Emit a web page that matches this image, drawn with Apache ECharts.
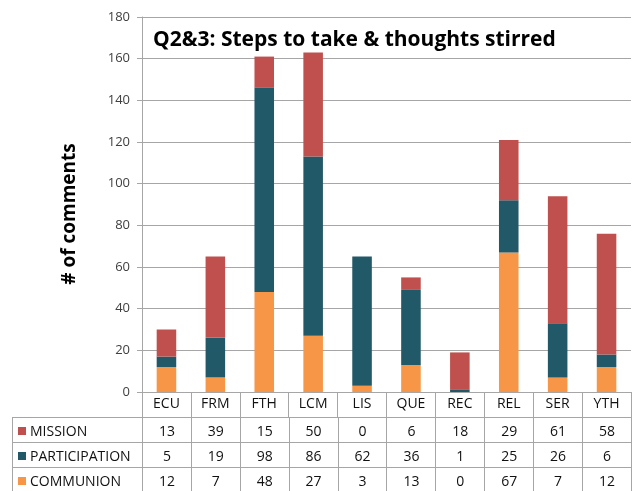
<!DOCTYPE html>
<html>
<head>
<meta charset="utf-8">
<script src="https://cdn.jsdelivr.net/npm/echarts@6/dist/echarts.min.js"></script>
<style>
  html, body { margin: 0; padding: 0; background: #fff; }
  #wrap { position: relative; width: 634px; height: 491px; overflow: hidden; }
  #chart { position: absolute; left: 0; top: 0; width: 634px; height: 491px; }
  #table { position: absolute; left: 12px; top: 417px; border-collapse: collapse; table-layout: fixed;
           font-family: "Open Sans", "Noto Sans", sans-serif; font-size: 14px; color: #111; }
  #table td { border: 1px solid #a6a6a6; height: 24px; padding: 0; text-align: center; white-space: nowrap; overflow: hidden; }
  #table td.name { text-align: left; padding-left: 5px; }
  .sw { display: inline-block; width: 8px; height: 8px; margin-right: 4px; vertical-align: 1px; }
</style>
</head>
<body>
<div id="wrap">
  <div id="chart"></div>
  <table id="table"></table>
</div>
<script>
  // categories and stacked values (bottom to top: communion, participation, mission)
  var categories = ['ECU', 'FRM', 'FTH', 'LCM', 'LIS', 'QUE', 'REC', 'REL', 'SER', 'YTH'];
  var mission = [13, 39, 15, 50, 0, 6, 18, 29, 61, 58];
  var participation = [5, 19, 98, 86, 62, 36, 1, 25, 26, 6];
  var communion = [12, 7, 48, 27, 3, 13, 0, 67, 7, 12];
  var yTicks = [0, 20, 40, 60, 80, 100, 120, 140, 160, 180];

  var colors = { MISSION: '#C0504D', PARTICIPATION: '#215968', COMMUNION: '#F79646' };
  var font = '"Open Sans", "Noto Sans", sans-serif';

  var myChart = echarts.init(document.getElementById('chart'));
  var option = {
    animation: false,
    title: {
      text: 'Q2&3: Steps to take & thoughts stirred',
      left: 148,
      top: 25,
      textStyle: { fontFamily: font, fontSize: 21, fontWeight: 'bold', color: '#000' }
    },
    graphic: [{
      type: 'text',
      x: 70,
      y: 214,
      rotation: Math.PI / 2,
      style: {
        text: '# of comments',
        fontFamily: font, fontSize: 19, fontWeight: 'bold', fill: '#000',
        align: 'center', verticalAlign: 'middle'
      }
    }],
    grid: { left: 142, right: 3, top: 17, bottom: 99 },
    xAxis: {
      type: 'category',
      data: categories,
      axisLine: { lineStyle: { color: '#a6a6a6' } },
      axisTick: { show: true, length: 25, lineStyle: { color: '#a6a6a6' } },
      axisLabel: { fontFamily: font, fontSize: 14, color: '#111', margin: 5 }
    },
    yAxis: {
      type: 'value',
      min: yTicks[0],
      max: yTicks[yTicks.length - 1],
      interval: 20,
      axisLine: { show: true, lineStyle: { color: '#a6a6a6' } },
      axisTick: { show: true, length: 5, lineStyle: { color: '#a6a6a6' } },
      axisLabel: { fontFamily: font, fontSize: 13, color: '#404040', margin: 12 },
      splitLine: { lineStyle: { color: '#a6a6a6' } }
    },
    series: [
      { name: 'COMMUNION', type: 'bar', stack: 'a', data: communion, barWidth: '40%', itemStyle: { color: colors.COMMUNION } },
      { name: 'PARTICIPATION', type: 'bar', stack: 'a', data: participation, itemStyle: { color: colors.PARTICIPATION } },
      { name: 'MISSION', type: 'bar', stack: 'a', data: mission, itemStyle: { color: colors.MISSION } }
    ]
  };
  myChart.setOption(option);

  // data table under the axis
  var rows = [['MISSION', mission], ['PARTICIPATION', participation], ['COMMUNION', communion]];
  var html = '<colgroup><col style="width:130px">';
  for (var i = 0; i < categories.length; i++) html += '<col style="width:48.9px">';
  html += '</colgroup>';
  rows.forEach(function (r) {
    html += '<tr><td class="name"><span class="sw" style="background:' + colors[r[0]] + '"></span>' + r[0] + '</td>';
    r[1].forEach(function (v) { html += '<td>' + v + '</td>'; });
    html += '</tr>';
  });
  document.getElementById('table').innerHTML = html;
</script>
</body>
</html>
